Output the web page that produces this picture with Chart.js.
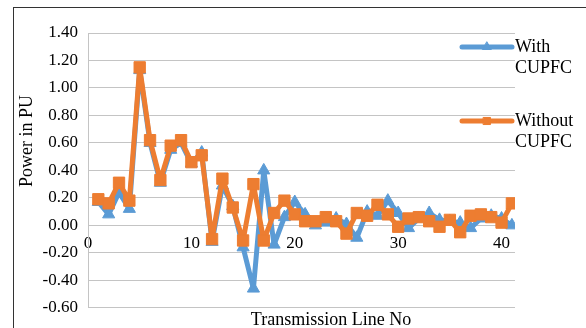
<!DOCTYPE html>
<html lang="en">
<head>
  <meta charset="UTF-8">
  <title>Power flow with and without CUPFC</title>
  <script src="https://cdn.jsdelivr.net/npm/chart.js"></script>
  <style>
    html, body {
      margin: 0;
      background: white;
    }
    #wrap {
      position: relative;
      width: 586px;
      height: 328px;
    }
  </style>
</head>
<body>
  <div id="wrap"><canvas id="powerChart"></canvas></div>

  <script>
    // transmission line numbers and power values (PU)
    const lineNo = [1, 2, 3, 4, 5, 6, 7, 8, 9, 10, 11, 12, 13, 14, 15, 16, 17, 18, 19, 20,
      21, 22, 23, 24, 25, 26, 27, 28, 29, 30, 31, 32, 33, 34, 35, 36, 37, 38, 39, 40, 41];
    const withCUPFC = [0.17, 0.08, 0.24, 0.12, 1.13, 0.60, 0.31, 0.55, 0.60, 0.45,
      0.53, -0.12, 0.29, 0.14, -0.16, -0.46, 0.40, -0.14, 0.06, 0.17,
      0.08, 0.00, 0.02, 0.05, 0.01, -0.09, 0.10, 0.07, 0.18, 0.09,
      -0.02, 0.05, 0.09, 0.04, 0.03, 0.02, -0.02, 0.05, 0.07, 0.05, 0.00];
    const withoutCUPFC = [0.19, 0.16, 0.31, 0.18, 1.15, 0.62, 0.33, 0.58, 0.62, 0.46,
      0.51, -0.10, 0.34, 0.13, -0.11, 0.30, -0.11, 0.09, 0.18, 0.08,
      0.03, 0.03, 0.06, 0.03, -0.06, 0.09, 0.07, 0.15, 0.08, -0.01,
      0.05, 0.06, 0.03, -0.01, 0.04, -0.05, 0.07, 0.08, 0.06, 0.02, 0.16];
    const xTickValues = [0, 10, 20, 30, 40];
    const seriesNames = [['With', 'CUPFC'], ['Without', 'CUPFC']];

    const BLUE = '#5B9BD5';
    const ORANGE = '#ED7D31';
    const SERIF = "'Liberation Serif', 'Times New Roman', serif";

    // titles, legend and frame drawn on top of the chart
    const decorations = {
      id: 'decorations',
      afterDraw(chart) {
        const c = chart.ctx;
        c.save();
        c.strokeStyle = '#333';
        c.lineWidth = 1;
        c.strokeRect(13.5, 7.5, 800, 500);

        c.fillStyle = '#000';
        c.font = '18px ' + SERIF;
        c.textBaseline = 'middle';

        c.textAlign = 'center';
        c.fillText('Transmission Line No', 331, 320);

        c.save();
        c.translate(27, 141);
        c.rotate(-Math.PI / 2);
        c.fillText('Power in PU', 0, 0);
        c.restore();

        // legend
        const rows = [47, 121];
        chart.data.datasets.forEach((ds, i) => {
          const y = rows[i];
          c.strokeStyle = ds.borderColor;
          c.fillStyle = ds.borderColor;
          c.lineWidth = 5;
          c.lineCap = 'round';
          c.beginPath();
          c.moveTo(462, y);
          c.lineTo(512, y);
          c.stroke();
          c.lineWidth = 1;
          Chart.helpers.drawPoint(c, {
            pointStyle: ds.pointStyle,
            radius: 5,
            borderWidth: 1
          }, 487, y);
          c.fillStyle = '#000';
          c.textAlign = 'left';
          c.fillText(seriesNames[i][0], 515, y);
          c.fillText(seriesNames[i][1], 515, y + 21);
        });
        c.restore();
      }
    };

    const ctx = document.getElementById('powerChart').getContext('2d');
    new Chart(ctx, {
      type: 'line',
      data: {
        datasets: [
          {
            label: 'With CUPFC',
            data: lineNo.map((x, i) => ({ x, y: withCUPFC[i] })),
            borderColor: BLUE,
            backgroundColor: BLUE,
            pointBackgroundColor: BLUE,
            pointBorderColor: BLUE,
            pointStyle: 'triangle',
            pointRadius: 7,
            pointBorderWidth: 1,
            borderWidth: 5,
            borderJoinStyle: 'round',
            tension: 0,
            order: 1
          },
          {
            label: 'Without CUPFC',
            data: lineNo.map((x, i) => ({ x, y: withoutCUPFC[i] })),
            borderColor: ORANGE,
            backgroundColor: ORANGE,
            pointBackgroundColor: ORANGE,
            pointBorderColor: ORANGE,
            pointStyle: 'rect',
            pointRadius: 8,
            pointBorderWidth: 1,
            borderWidth: 5,
            borderJoinStyle: 'round',
            tension: 0,
            order: 0
          }
        ]
      },
      options: {
        animation: false,
        responsive: true,
        maintainAspectRatio: false,
        layout: {
          padding: { left: 0, top: 33, right: 71, bottom: 17 }
        },
        plugins: {
          legend: { display: false },
          tooltip: { enabled: false }
        },
        scales: {
          x: {
            type: 'linear',
            position: { y: 0 },
            min: 0,
            max: 41.3,
            afterBuildTicks: (scale) => {
              scale.ticks = xTickValues.map(v => ({ value: v }));
            },
            grid: { display: false, drawTicks: false },
            border: { display: false },
            ticks: {
              padding: 8,
              maxRotation: 0,
              color: '#000',
              font: { family: SERIF, size: 17 }
            }
          },
          y: {
            type: 'linear',
            min: -0.6,
            max: 1.4,
            afterFit: (scale) => { scale.width = 88; },
            grid: { color: '#c4c4c4', lineWidth: 1, drawTicks: false },
            border: { display: true, color: '#c4c4c4' },
            ticks: {
              stepSize: 0.2,
              padding: 10,
              color: '#000',
              font: { family: SERIF, size: 17 },
              callback: (v) => v.toFixed(2)
            }
          }
        }
      },
      plugins: [decorations]
    });
  </script>
</body>
</html>
